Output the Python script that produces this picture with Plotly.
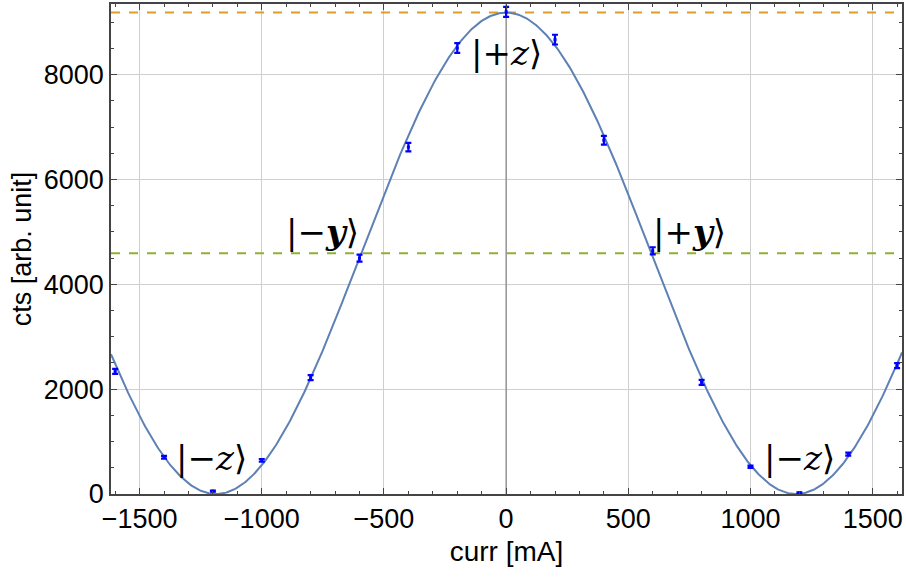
import numpy as np
import plotly.graph_objects as go

# Measured counts vs. coil current
curr_mA = [-1600, -1400, -1200, -1000, -800, -600, -400, -200, 0,
           200, 400, 600, 800, 1000, 1200, 1400, 1600]
counts = [2340, 700, 55, 640, 2220, 4500, 6620, 8510, 9200,
          8670, 6750, 4640, 2130, 520, 25, 760, 2450]
count_err = [48, 26, 8, 25, 47, 67, 81, 92, 96,
             93, 82, 68, 46, 23, 5, 28, 49]

# Fitted model: A * cos^2(pi * I / (2 * I_half))
fit_amp = 9186
fit_half_period = 1187

x_range = [-1617, 1620]
y_range = [0, 9350]

x_fit = np.linspace(x_range[0], x_range[1], 600)
y_fit = fit_amp * np.cos(np.pi * x_fit / (2 * fit_half_period)) ** 2

ket_labels = [
    (0, 8420, "|+<i>z</i>⟩"),
    (-752, 5000, "|−<b><i>y</i></b>⟩"),
    (752, 5000, "|+<b><i>y</i></b>⟩"),
    (-1204, 685, "|−<i>z</i>⟩"),
    (1200, 685, "|−<i>z</i>⟩"),
]

fig = go.Figure()

# reference levels: maximum and half maximum
fig.add_trace(go.Scatter(x=x_range, y=[fit_amp, fit_amp], mode="lines",
                         line=dict(color="#E19C24", width=2, dash="dash"),
                         hoverinfo="skip"))
fig.add_trace(go.Scatter(x=x_range, y=[fit_amp / 2, fit_amp / 2], mode="lines",
                         line=dict(color="#8FB032", width=2, dash="dash"),
                         hoverinfo="skip"))

# x = 0 axis line
fig.add_trace(go.Scatter(x=[0, 0], y=y_range, mode="lines",
                         line=dict(color="#8a8a8a", width=1.3), hoverinfo="skip"))

fig.add_trace(go.Scatter(x=x_fit, y=y_fit, mode="lines",
                         line=dict(color="#5E81B5", width=2)))

fig.add_trace(go.Scatter(x=curr_mA, y=counts, mode="markers",
                         marker=dict(color="#0000FF", size=3, symbol="square"),
                         error_y=dict(type="data", array=count_err, visible=True,
                                      color="#0000FF", thickness=2.2, width=3)))

for x, y, t in ket_labels:
    fig.add_annotation(x=x, y=y, text=t, showarrow=False,
                       font=dict(family="DejaVu Serif", size=34, color="black"))

axis_common = dict(
    showline=True, linecolor="#444444", linewidth=1.5, mirror="allticks",
    ticks="inside", ticklen=6, tickwidth=1.2, tickcolor="#444444",
    showgrid=True, gridcolor="#cfcfcf", gridwidth=1, zeroline=False,
    tickfont=dict(family="Liberation Sans, Arial", size=27, color="black"),
)

fig.update_xaxes(range=x_range, dtick=500, tick0=0,
                 minor=dict(dtick=100, ticks="inside", ticklen=3.5,
                            tickcolor="#444444", showgrid=False),
                 title=dict(text="curr [mA]", standoff=8,
                            font=dict(family="Liberation Sans, Arial", size=28, color="black")),
                 **axis_common)
fig.update_yaxes(range=y_range, dtick=2000, tick0=0,
                 minor=dict(dtick=500, ticks="inside", ticklen=3.5,
                            tickcolor="#444444", showgrid=False),
                 title=dict(text="cts [arb. unit]", standoff=4,
                            font=dict(family="Liberation Sans, Arial", size=27, color="black")),
                 **axis_common)

fig.update_layout(
    width=906, height=577,
    margin=dict(l=111, r=2, t=4, b=83),
    plot_bgcolor="white", paper_bgcolor="white",
    showlegend=False,
)

fig.write_html("out.html")
